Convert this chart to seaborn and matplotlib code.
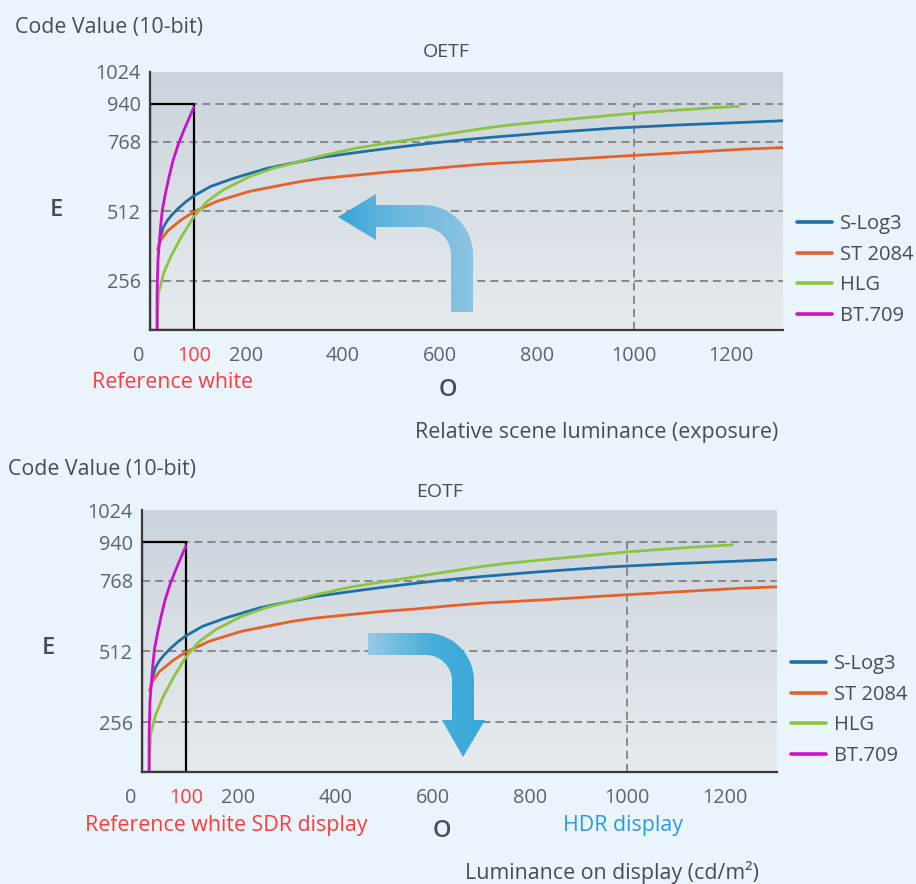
import numpy as np
import matplotlib
matplotlib.use('Agg')
import matplotlib.pyplot as plt
import seaborn as sns
import pandas as pd
from matplotlib.path import Path
from matplotlib.patches import PathPatch, Rectangle
from matplotlib.colors import LinearSegmentedColormap
from matplotlib.lines import Line2D

# ---------------- data ----------------
SERIES = ['S-Log3', 'ST 2084', 'HLG', 'BT.709']
COLORS = ['#1D6FA8', '#E6602A', '#8CC43F', '#CC10CC']

SLOG3_X = [23, 30, 39, 49, 62, 80, 99, 131, 175, 241, 289, 358, 427, 496, 565, 633, 702, 819, 957, 1095, 1233, 1308]
SLOG3_Y = [414, 453, 478, 498, 520, 546, 569, 603, 633, 669, 687, 711, 728, 744, 759, 773, 787, 808, 829, 844, 856, 863]

ST2084_X = [17, 23, 39, 70, 99, 144, 206, 310, 358, 427, 496, 565, 633, 702, 819, 957, 1095, 1233, 1308]
ST2084_Y = [371, 402, 439, 480, 510, 549, 585, 621, 633, 645, 657, 666, 677, 687, 698, 713, 727, 741, 746]

HLG_X = [16, 19, 31, 47, 70, 99, 125, 156, 206, 254, 310, 358, 427, 496, 565, 633, 702, 750, 819, 888,
         1001, 1095, 1164, 1216]
HLG_Y = [0, 192, 285, 346, 416, 492, 549, 591, 639, 669, 695, 717, 744, 764, 786, 809, 832, 845, 860, 874,
         897, 912, 922, 928]

BT709_X = [16, 16, 18, 24, 28, 35, 43, 52, 64, 79, 99]
BT709_Y = [0, 192, 334, 457, 519, 579, 639, 699, 759, 832, 924]

Y_TICKS = [256, 512, 768, 940, 1024]
X_TICKS = [0, 100, 200, 400, 600, 800, 1000, 1200]
X_MAX = 1308
REF_WHITE = 100
HDR_PEAK = 1000
SDR_CODE = 940

# schematic (non-uniform) axis spacing of the original drawing
Y_KNOTS = [-1024, 0, 256, 512, 768, 940, 1024, 2048]
Y_POS = [-1.0, 0.0, 0.19, 0.46, 0.73, 0.877, 1.0, 2.0]
X_KNOTS = [-1000, 0, 100, 200, 1308, 3000]
X_POS = [-1.0, 0.0, 0.07, 0.152, 1.0, 2.295]


def yfwd(v):
    return np.interp(v, Y_KNOTS, Y_POS)


def yinv(p):
    return np.interp(p, Y_POS, Y_KNOTS)


def xfwd(v):
    return np.interp(v, X_KNOTS, X_POS)


def xinv(p):
    return np.interp(p, X_POS, X_KNOTS)


frames = []
for name, xs, ys in zip(SERIES, [SLOG3_X, ST2084_X, HLG_X, BT709_X],
                        [SLOG3_Y, ST2084_Y, HLG_Y, BT709_Y]):
    frames.append(pd.DataFrame({'lum': xs, 'code': ys, 'curve': name}))
df = pd.concat(frames, ignore_index=True)
palette = dict(zip(SERIES, COLORS))

# ---------------- style ----------------
sns.set_theme(style='white')
plt.rcParams['font.family'] = ['Open Sans', 'DejaVu Sans']

W, H = 916, 884
BG = '#EAF4FB'
TXT = '#474C57'
TICK = '#5D6371'
RED = '#FF3B3B'
FS_TICK = 14.3
FS_TXT = 15.4

fig = plt.figure(figsize=(W / 100, H / 100), dpi=100)
fig.patch.set_facecolor(BG)


def ftxt(x, y, s, **kw):
    kw.setdefault('color', TXT)
    kw.setdefault('va', 'center')
    fig.text(x / W, 1 - y / H, s, **kw)


bg_cmap = LinearSegmentedColormap.from_list('bg', ['#CBD4DB', '#E6EBEF'])


def make_panel(left, top, right, bottom, legend_y):
    ax = fig.add_axes([left / W, 1 - bottom / H, (right - left) / W, (bottom - top) / H])
    ax.set_facecolor('none')
    grad = np.linspace(0, 1, 256).reshape(-1, 1)
    ax.imshow(grad, extent=[0, 1, 0, 1], transform=ax.transAxes, aspect='auto',
              cmap=bg_cmap, origin='upper', zorder=0)
    ax.set_xscale('function', functions=(xfwd, xinv))
    ax.set_yscale('function', functions=(yfwd, yinv))

    for v in [256, 512, 768, 940]:
        ax.axhline(v, color='#8A8A8A', lw=1.45, ls=(0, (4, 2.5)), zorder=1.5)
    ax.vlines(HDR_PEAK, 0, SDR_CODE, color='#8A8A8A', lw=1.45, ls=(0, (4, 2.5)), zorder=1.5)
    ax.add_patch(Rectangle((0, 0), REF_WHITE, SDR_CODE, fill=False, ec='black', lw=1.6, zorder=2.5))

    sns.lineplot(data=df, x='lum', y='code', hue='curve', hue_order=SERIES, palette=palette,
                 estimator=None, sort=False, lw=2.0, legend=False, ax=ax, zorder=3)

    ax.set_xlim(0, X_MAX)
    ax.set_ylim(0, 1024)
    ax.set_xlabel('')
    ax.set_ylabel('')
    ax.set_yticks(Y_TICKS, [str(t) for t in Y_TICKS])
    ax.set_xticks(X_TICKS, ['' if t == 0 else str(t) for t in X_TICKS])
    ax.xaxis.set_minor_locator(matplotlib.ticker.NullLocator())
    ax.yaxis.set_minor_locator(matplotlib.ticker.NullLocator())
    ax.tick_params(axis='both', length=0, labelsize=FS_TICK, labelcolor=TICK)
    ax.tick_params(axis='x', pad=11.5)
    ax.tick_params(axis='y', pad=6.5)
    for lab, t in zip(ax.get_xticklabels(), X_TICKS):
        if t == REF_WHITE:
            lab.set_color(RED)
    ax.annotate('0', xy=(0, 0), xycoords=('data', 'axes fraction'), xytext=(-8, -11.5),
                textcoords='offset points', ha='center', va='top', fontsize=FS_TICK, color=TICK)
    for s in ['top', 'right']:
        ax.spines[s].set_visible(False)
    for s in ['left', 'bottom']:
        ax.spines[s].set_color('#3A3A3A')
        ax.spines[s].set_linewidth(1.6)
        ax.spines[s].set_zorder(4)

    handles = [Line2D([0], [0], color=c, lw=2.6) for c in COLORS]
    ax.legend(handles, SERIES, loc='center left', bbox_to_anchor=(1.022, legend_y),
              frameon=False, fontsize=14.5, handlelength=1.75, handletextpad=0.4,
              labelspacing=0.52, borderpad=0, borderaxespad=0, labelcolor=TXT)
    return ax


ax1 = make_panel(150, 72, 783, 330, 0.233)
ax2 = make_panel(142, 510, 777, 772, 0.237)

# ---------------- texts ----------------
ftxt(15, 28, 'Code Value (10-bit)', ha='left', fontsize=FS_TXT)
ftxt(446, 52, 'OETF', ha='center', fontsize=14)
ftxt(56, 210, 'E', ha='center', fontsize=17, fontweight='semibold')
ftxt(92, 382, 'Reference white', ha='left', fontsize=FS_TXT, color=RED)
ftxt(448, 390, 'O', ha='center', fontsize=17, fontweight='semibold')
ftxt(415, 432, 'Relative scene luminance (exposure)', ha='left', fontsize=FS_TXT)

ftxt(8, 469, 'Code Value (10-bit)', ha='left', fontsize=FS_TXT)
ftxt(440, 492, 'EOTF', ha='center', fontsize=14)
ftxt(48, 648, 'E', ha='center', fontsize=17, fontweight='semibold')
ftxt(85, 825, 'Reference white SDR display', ha='left', fontsize=FS_TXT, color=RED)
ftxt(442, 831, 'O', ha='center', fontsize=17, fontweight='semibold')
ftxt(563, 825, 'HDR display', ha='left', fontsize=FS_TXT, color='#2A9AE0')
ftxt(465, 872, 'Luminance on display (cd/m²)', ha='left', fontsize=FS_TXT)

# ---------------- decorative arrows ----------------
ov = fig.add_axes([0, 0, 1, 1], zorder=5)
ov.patch.set_alpha(0)
ov.axis('off')

k = 0.5523
M, L, C, Z = Path.MOVETO, Path.LINETO, Path.CURVE4, Path.CLOSEPOLY

cx, cy, Ro, Ri = 423, 255, 50, 28
top_verts = [(473, 312), (473, cy),
             (473, cy - k * Ro), (cx + k * Ro, cy - Ro), (cx, cy - Ro),
             (376, 205), (376, 194), (338, 217), (376, 240), (376, 227),
             (cx, 227),
             (cx + k * Ri, 227), (451, cy - k * Ri), (451, cy),
             (451, 312), (473, 312)]
codes = [M, L, C, C, C, L, L, L, L, L, L, C, C, C, L, Z]

bx, by, Rob, Rib = 426, 681, 48, 26
bot_verts = [(368, 633), (bx, 633),
             (bx + k * Rob, 633), (474, by - k * Rob), (474, by),
             (474, 720), (485, 720), (463, 757), (442, 720), (452, 720),
             (452, by),
             (452, by - k * Rib), (bx + k * Rib, 655), (bx, 655),
             (368, 655), (368, 633)]

top_cmap = LinearSegmentedColormap.from_list('ta', [(0, '#35A6D7'), (0.45, '#6BB8DE'), (1, '#8CC4E1')])
bot_cmap = LinearSegmentedColormap.from_list('ba', [(0, '#95CAE4'), (0.55, '#46ADDA'), (1, '#38A8D8')])

for verts, cm, (x0, x1, y0, y1) in [(top_verts, top_cmap, (338, 473, 194, 312)),
                                     (bot_verts, bot_cmap, (368, 485, 633, 757))]:
    patch = PathPatch(Path(verts, codes), facecolor='none', edgecolor='none')
    ov.add_patch(patch)
    g = np.linspace(0, 1, 256).reshape(1, -1)
    im = ov.imshow(g, extent=(x0, x1, y1, y0), cmap=cm, aspect='auto', zorder=6)
    im.set_clip_path(patch)

ov.set_xlim(0, W)
ov.set_ylim(H, 0)

fig.savefig('out.png', dpi=100, facecolor=fig.get_facecolor())
